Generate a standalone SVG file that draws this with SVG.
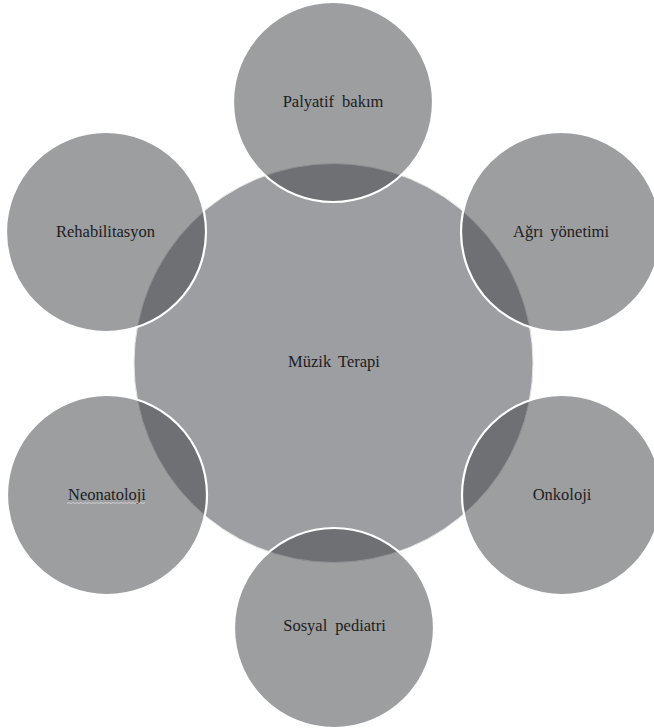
<svg xmlns="http://www.w3.org/2000/svg" width="654" height="728" viewBox="0 0 654 728">
  <style>
    .hub { fill: #9d9ea2; stroke: #e6e6e8; stroke-width: 1; }
    .sat { fill: rgb(70,71,75); fill-opacity: 0.53; stroke: #ffffff; stroke-width: 2.2; }
    .lbl { font-family: 'Liberation Serif', 'Times New Roman', Times, serif; font-size: 16.5px; fill: #1c1c1e; text-anchor: middle; word-spacing: 3px; }
  </style>
  <rect width="654" height="728" fill="#ffffff"/>
  <g id="muzik-terapi">
    <circle class="hub" cx="333.5" cy="363" r="199.5"/>
    <text class="lbl" x="334" y="367" font-family="Liberation Serif, serif">Müzik Terapi</text>
  </g>
  <g id="palyatif-bakim">
    <circle class="sat" cx="333" cy="102" r="100"/>
    <text class="lbl" x="333" y="107" font-family="Liberation Serif, serif" style="word-spacing:4px">Palyatif bakım</text>
  </g>
  <g id="rehabilitasyon">
    <circle class="sat" cx="106" cy="232" r="100"/>
    <text class="lbl" x="105.5" y="237" font-family="Liberation Serif, serif">Rehabilitasyon</text>
  </g>
  <g id="agri-yonetimi">
    <circle class="sat" cx="561" cy="232" r="100"/>
    <text class="lbl" x="561" y="237" font-family="Liberation Serif, serif">Ağrı yönetimi</text>
  </g>
  <g id="neonatoloji">
    <circle class="sat" cx="107" cy="495" r="100"/>
    <text class="lbl" x="107" y="500" font-family="Liberation Serif, serif">Neonatoloji</text>
    <path d="M67 503.5 l2 -1 l2 1 l2 -1 l2 1 l2 -1 l2 1 l2 -1 l2 1 l2 -1 l2 1 l2 -1 l2 1 l2 -1 l2 1 l2 -1 l2 1 l2 -1 l2 1 l2 -1 l2 1 l2 -1 l2 1 l2 -1 l2 1 l2 -1 l2 1 l2 -1 l2 1 l2 -1 l2 1 l2 -1 l2 1 l2 -1 l2 1 l2 -1 l2 1 l2 -1 l2 1 l2 -1" fill="none" stroke="#d4d4d6" stroke-width="0.9"/>
  </g>
  <g id="onkoloji">
    <circle class="sat" cx="562" cy="495" r="100"/>
    <text class="lbl" x="562" y="500" font-family="Liberation Serif, serif">Onkoloji</text>
  </g>
  <g id="sosyal-pediatri">
    <circle class="sat" cx="334" cy="628" r="100"/>
    <text class="lbl" x="334.5" y="631" font-family="Liberation Serif, serif" style="word-spacing:4px">Sosyal pediatri</text>
  </g>
</svg>
